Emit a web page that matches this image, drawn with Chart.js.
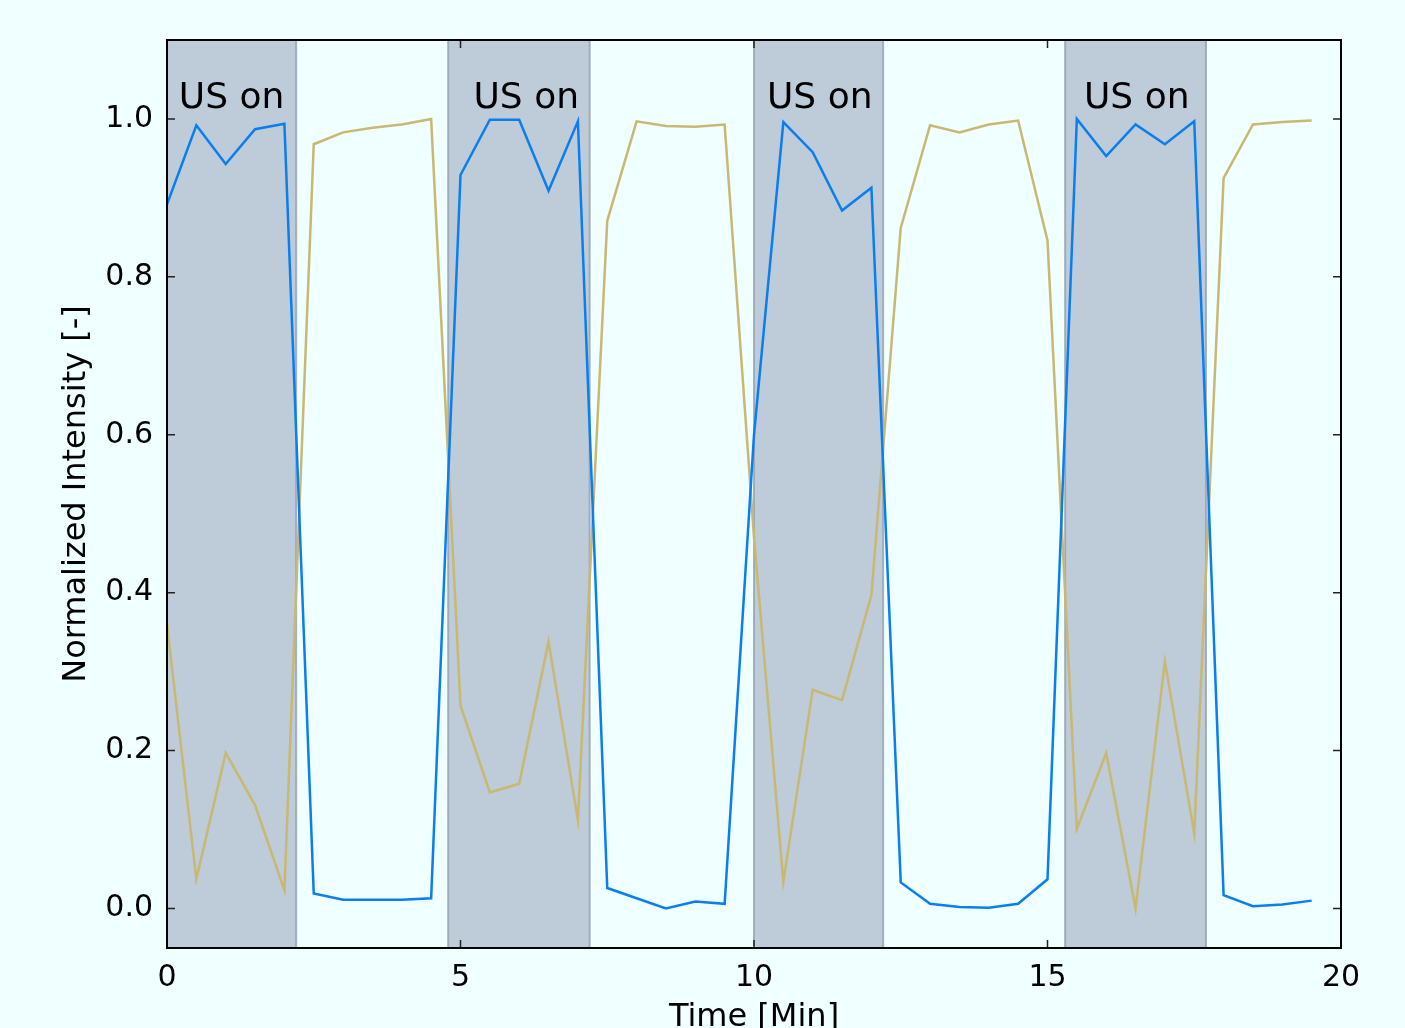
<!DOCTYPE html>
<html>
<head>
<meta charset="utf-8">
<script src="https://cdn.jsdelivr.net/npm/chart.js@4.4.1/dist/chart.umd.min.js"></script>
<style>
  html, body { margin: 0; padding: 0; background: #f0ffff; }
  canvas { display: block; }
</style>
</head>
<body>
<canvas id="chart" width="1405" height="1028"></canvas>
<script>
// Sample times in minutes
const times = [0, 0.5, 1, 1.5, 2, 2.5, 3, 3.5, 4, 4.5,
  5, 5.5, 6, 6.5, 7, 7.5, 8, 8.5, 9, 9.5,
  10, 10.5, 11, 11.5, 12, 12.5, 13, 13.5, 14, 14.5, 15,
  15.5, 16, 16.5, 17, 17.5, 18, 18.5, 19, 19.5];

const blueIntensity = [0.892, 0.992, 0.943, 0.987, 0.994, 0.019, 0.011, 0.011, 0.011, 0.013,
  0.929, 0.999, 0.999, 0.909, 0.997, 0.026, 0.013, 0.0, 0.009, 0.006,
  0.60, 0.996, 0.958, 0.884, 0.913, 0.033, 0.006, 0.002, 0.001, 0.006, 0.037,
  1.0, 0.953, 0.993, 0.968, 0.997, 0.017, 0.003, 0.005, 0.010];

const tanIntensity = [0.36, 0.037, 0.197, 0.131, 0.023, 0.968, 0.983, 0.989, 0.993, 1.0,
  0.257, 0.147, 0.158, 0.338, 0.112, 0.871, 0.997, 0.991, 0.990, 0.993,
  0.47, 0.034, 0.277, 0.264, 0.397, 0.862, 0.992, 0.983, 0.993, 0.998, 0.846,
  0.101, 0.197, 0.0, 0.313, 0.095, 0.925, 0.993, 0.996, 0.998];

// Ultrasound on periods
const usOnStart = [0, 4.79, 10.0, 15.3];
const usOnEnd = [2.2, 7.2, 12.2, 17.7];
const usOnLabel = "US on";
const usOnLabelX = [1.1, 6.12, 11.12, 16.52];

const xTicks = [0, 5, 10, 15, 20];
const yTicks = [0, 0.2, 0.4, 0.6, 0.8, 1.0];

const FONT = "DejaVu Sans";

// shaded spans + label + frame with inward ticks
const decorations = {
  id: "decorations",
  beforeDatasetsDraw(chart) {
    const { ctx, chartArea, scales } = chart;
    ctx.save();
    for (let i = 0; i < usOnStart.length; i++) {
      const x0 = scales.x.getPixelForValue(usOnStart[i]);
      const x1 = scales.x.getPixelForValue(usOnEnd[i]);
      ctx.fillStyle = "rgb(190,203,216)";
      ctx.fillRect(x0, chartArea.top, x1 - x0, chartArea.bottom - chartArea.top);
      ctx.strokeStyle = "rgba(150,160,175,0.8)";
      ctx.lineWidth = 2;
      ctx.beginPath();
      ctx.moveTo(x0, chartArea.top);
      ctx.lineTo(x0, chartArea.bottom);
      ctx.moveTo(x1, chartArea.top);
      ctx.lineTo(x1, chartArea.bottom);
      ctx.stroke();
    }
    ctx.restore();
  },
  afterDatasetsDraw(chart) {
    const { ctx, scales } = chart;
    ctx.save();
    ctx.fillStyle = "#000";
    ctx.font = "36px '" + FONT + "'";
    ctx.textAlign = "center";
    ctx.textBaseline = "alphabetic";
    usOnLabelX.forEach(v => {
      ctx.fillText(usOnLabel, scales.x.getPixelForValue(v), scales.y.getPixelForValue(1.014));
    });
    ctx.restore();
  },
  afterDraw(chart) {
    const { ctx, chartArea, scales } = chart;
    const { left, right, top, bottom } = chartArea;
    ctx.save();
    ctx.strokeStyle = "#222";
    ctx.lineWidth = 1.5;
    ctx.beginPath();
    xTicks.forEach(v => {
      const x = scales.x.getPixelForValue(v);
      ctx.moveTo(x, bottom);
      ctx.lineTo(x, bottom - 8);
      ctx.moveTo(x, top);
      ctx.lineTo(x, top + 8);
    });
    yTicks.forEach(v => {
      const y = scales.y.getPixelForValue(v);
      ctx.moveTo(left, y);
      ctx.lineTo(left + 8, y);
      ctx.moveTo(right, y);
      ctx.lineTo(right - 8, y);
    });
    ctx.stroke();
    ctx.strokeStyle = "#000";
    ctx.lineWidth = 2;
    ctx.strokeRect(left, top, right - left, bottom - top);
    ctx.restore();
  }
};

new Chart(document.getElementById("chart"), {
  type: "line",
  data: {
    datasets: [
      {
        data: times.map((t, i) => ({ x: t, y: blueIntensity[i] })),
        borderColor: "#0a7eef",
        borderWidth: 2.5,
        pointRadius: 0,
        tension: 0
      },
      {
        data: times.map((t, i) => ({ x: t, y: tanIntensity[i] })),
        borderColor: "#c8b872",
        borderWidth: 2.5,
        pointRadius: 0,
        tension: 0
      }
    ]
  },
  options: {
    responsive: false,
    animation: false,
    devicePixelRatio: 1,
    layout: { padding: { left: 0, right: 64, top: 40, bottom: 0 } },
    plugins: { legend: { display: false }, tooltip: { enabled: false } },
    scales: {
      x: {
        type: "linear",
        min: 0,
        max: 20,
        afterBuildTicks: s => { s.ticks = xTicks.map(v => ({ value: v })); },
        afterFit: s => { s.height = 80; },
        grid: { display: false, drawTicks: false },
        border: { display: false },
        ticks: {
          padding: 12,
          color: "#000",
          font: { family: FONT, size: 30 },
          maxRotation: 0,
          callback: v => String(v)
        },
        title: {
          display: true,
          text: "Time [Min]",
          color: "#000",
          font: { family: FONT, size: 32 },
          padding: { top: 0, bottom: -9 }
        }
      },
      y: {
        min: -0.05,
        max: 1.1,
        afterBuildTicks: s => { s.ticks = yTicks.map(v => ({ value: v })); },
        afterFit: s => { s.width = 167; },
        grid: { display: false, drawTicks: false },
        border: { display: false },
        ticks: {
          padding: 14,
          color: "#000",
          font: { family: FONT, size: 30 },
          callback: v => v.toFixed(1)
        },
        title: {
          display: true,
          text: "Normalized Intensity [-]",
          color: "#000",
          font: { family: FONT, size: 32 },
          padding: { top: 57, bottom: 0 }
        }
      }
    }
  },
  plugins: [decorations]
});
</script>
</body>
</html>
